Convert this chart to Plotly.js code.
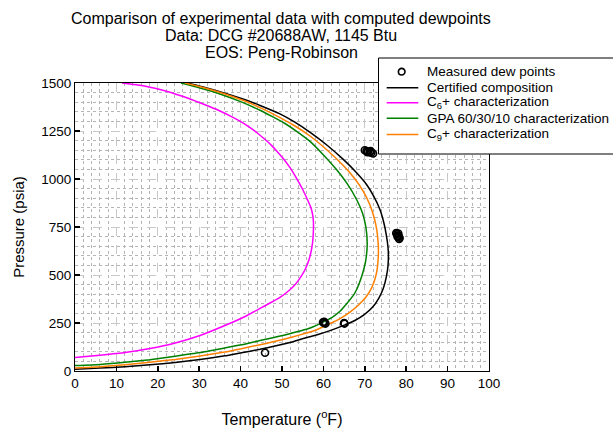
<!DOCTYPE html>
<html>
<head>
<meta charset="utf-8">
<script src="https://cdn.plot.ly/plotly-3.0.1.min.js"></script>
<style>html,body{margin:0;padding:0;background:#fff;}#chart{width:613px;height:428px;}</style>
</head>
<body>
<div id="chart"></div>
<script>
// Title lines
const titleLines = ['Comparison of experimental data with computed dewpoints', 'Data: DCG #20688AW, 1145 Btu', 'EOS: Peng-Robinson'];

// Measured dew points (T in °F, P in psia)
const measT = [45.9, 59.9, 60.2, 60.5, 60.2, 65.1, 65.0, 70.0, 70.4, 70.8, 71.2, 71.6, 72.0, 70.6, 71.4, 77.6, 77.8, 78.0, 78.2, 78.4, 78.3, 77.9, 78.1];
const measP = [95, 254, 250, 247, 256, 247, 250, 1150, 1146, 1143, 1140, 1137, 1133, 1140, 1145, 718, 712, 706, 700, 694, 688, 700, 716];

// Certified composition
const certT = [0, 6.0, 12.1, 18.1, 24.2, 30.2, 36.2, 39.9, 44.7, 48.3, 51.9, 55.6, 58.7, 62.1, 65.2, 67.6, 69.8, 71.9, 73.4, 74.5, 75.2, 75.6, 75.7, 75.6, 75.2, 74.6, 73.7, 72.2, 70.5, 67.9, 64.8, 60.9, 56.8, 53.1, 49.5, 44.7, 41.1, 36.2, 31.4, 27.1];
const certP = [9, 15, 22, 32, 44, 60, 79, 94, 113, 130, 148, 172, 190, 214, 240, 263, 292, 333, 380, 432, 490, 547, 604, 646, 708, 772, 839, 908, 969, 1035, 1102, 1176, 1243, 1296, 1339, 1383, 1413, 1447, 1477, 1500];

// C6+ characterization
const c6T = [0, 6.0, 12.1, 18.1, 24.2, 30.2, 36.2, 41.1, 44.7, 47.1, 49.5, 51.7, 53.4, 54.7, 55.7, 56.5, 57.05, 57.4, 57.56, 57.61, 57.54, 57.32, 56.93, 56.35, 55.7, 54.93, 54.03, 52.99, 51.81, 50.48, 49.03, 47.46, 45.77, 43.96, 42.03, 39.86, 37.44, 35.02, 32.61, 30.19, 27.78, 25.36, 22.95, 20.53, 18.12, 15.7, 13.29, 11.35];
const c6P = [70, 82, 96, 117, 146, 185, 237, 284, 326, 354, 383, 419, 456, 495, 534, 578, 625, 672, 719, 755, 792, 823, 854, 883, 914, 948, 984, 1023, 1063, 1102, 1138, 1175, 1208, 1241, 1271, 1301, 1329, 1354, 1376, 1397, 1417, 1435, 1452, 1466, 1478, 1488, 1495, 1500];

// GPA 60/30/10 characterization
const gpaT = [0, 6.0, 12.1, 18.1, 24.2, 30.2, 36.2, 39.9, 44.7, 50.7, 56.8, 60.4, 62.2, 64.0, 67.15, 68.1, 68.84, 69.57, 70.17, 70.58, 70.29, 69.44, 68.04, 65.7, 63.21, 59.9, 56.76, 53.62, 50.72, 47.58, 44.69, 39.86, 35.02, 30.19, 25.6];
const gpaP = [28, 34, 45, 59, 77, 96, 120, 135, 159, 188, 224, 260, 281, 311, 391, 427, 467, 516, 568, 656, 745, 823, 892, 977, 1048, 1128, 1196, 1247, 1289, 1326, 1358, 1404, 1443, 1474, 1500];

// C9+ characterization
const c9T = [0, 6.0, 12.1, 18.1, 24.2, 30.2, 36.2, 39.9, 44.7, 47.1, 50.7, 54.35, 57.97, 61.11, 64.01, 66.43, 68.48, 70.29, 71.62, 72.46, 72.95, 73.21, 73.29, 73.21, 72.9, 72.22, 71.14, 69.64, 67.63, 64.81, 60.87, 56.76, 53.14, 49.52, 44.69, 41.06, 36.23, 31.4, 26.57];
const c9P = [15, 22, 33, 46, 60, 78, 99, 115, 137, 148, 167, 188, 211, 242, 273, 307, 344, 385, 432, 479, 526, 578, 630, 672, 734, 802, 870, 935, 1000, 1070, 1151, 1224, 1276, 1320, 1372, 1406, 1443, 1474, 1500];

const names = ['Measured dew points', 'Certified composition', 'C<sub>6</sub>+ characterization', 'GPA 60/30/10 characterization', 'C<sub>9</sub>+ characterization'];
const colors = ['#000000', '#000000', '#ff00ff', '#008000', '#ff8000'];

const lineTrace = (x, y, i) => ({
  x: x, y: y, name: names[i], type: 'scatter', mode: 'lines',
  line: {color: colors[i], width: 1.5, shape: 'spline', smoothing: 0.5}
});

const traces = [
  lineTrace(certT, certP, 1),
  lineTrace(c6T, c6P, 2),
  lineTrace(gpaT, gpaP, 3),
  lineTrace(c9T, c9P, 4),
  {x: measT, y: measP, name: names[0], type: 'scatter', mode: 'markers',
   marker: {symbol: 'circle-open', size: 7, color: '#000', line: {width: 1.6, color: '#000'}}}
];

// plot area in pixels: x 75..489, y 83..371 (used only for legend/title placement)
const px2x = px => (px - 75) / 414;
const py2y = py => (371 - py) / 288;

const font = 'Liberation Sans, Arial, sans-serif';
const annotations = [];
const shapes = [];

// title lines
const titleY = [18.5, 35.5, 52.5];
titleLines.forEach((t, i) => annotations.push({
  text: t, xref: 'paper', yref: 'paper', x: px2x(281), y: py2y(titleY[i]),
  xanchor: 'center', yanchor: 'middle', showarrow: false,
  font: {family: font, size: 16, color: '#000'}
}));

// legend box
shapes.push({type: 'rect', xref: 'paper', yref: 'paper', layer: 'above',
  x0: px2x(378.5), x1: px2x(650), y0: py2y(154), y1: py2y(58),
  fillcolor: '#ffffff', line: {color: '#000', width: 1}});
const legY = [71.7, 87.7, 102.7, 118.3, 134.5];
names.forEach((n, i) => {
  const yy = py2y(legY[i]);
  if (i === 0) {
    shapes.push({type: 'circle', xref: 'paper', yref: 'paper', layer: 'above',
      xsizemode: 'pixel', ysizemode: 'pixel', xanchor: px2x(401.7), yanchor: yy,
      x0: -3.3, x1: 3.3, y0: -3.3, y1: 3.3, line: {color: '#000', width: 1.6}});
  } else {
    shapes.push({type: 'line', xref: 'paper', yref: 'paper', layer: 'above',
      x0: px2x(386.7), x1: px2x(418.3), y0: yy, y1: yy,
      line: {color: colors[i], width: 1.5}});
  }
  annotations.push({text: n, xref: 'paper', yref: 'paper', x: px2x(425), y: yy,
    xanchor: 'left', yanchor: 'middle', showarrow: false,
    font: {family: font, size: 13.5, color: '#000'}});
});

const axisCommon = {
  showline: true, mirror: true, linecolor: '#000', linewidth: 1,
  ticks: 'inside', ticklen: 5, tickcolor: '#000', tickwidth: 1.5,
  showgrid: true, gridcolor: '#c8c8c8', gridwidth: 1, griddash: 'dash',
  zeroline: false,
  tickfont: {family: font, size: 13.5, color: '#000'}
};

const layout = {
  width: 613, height: 428,
  margin: {l: 75, r: 124, t: 83, b: 57, autoexpand: false},
  paper_bgcolor: '#fff', plot_bgcolor: '#fff',
  font: {family: font, color: '#000'},
  showlegend: false,
  xaxis: Object.assign({}, axisCommon, {
    range: [0, 100], dtick: 10, tick0: 0,
    title: {text: 'Temperature (<sup>o</sup>F)', font: {size: 16}, standoff: 23},
    minor: {dtick: 2, showgrid: true, gridcolor: '#b4b4b4', griddash: 'dot', gridwidth: 1}
  }),
  yaxis: Object.assign({}, axisCommon, {
    range: [0, 1500], dtick: 250, tick0: 0,
    title: {text: 'Pressure (psia)', font: {size: 15}, standoff: 13},
    minor: {dtick: 50, showgrid: true, gridcolor: '#b4b4b4', griddash: 'dot', gridwidth: 1}
  }),
  shapes: shapes,
  annotations: annotations
};

Plotly.newPlot('chart', traces, layout, {displayModeBar: false, staticPlot: true});
</script>
</body>
</html>
